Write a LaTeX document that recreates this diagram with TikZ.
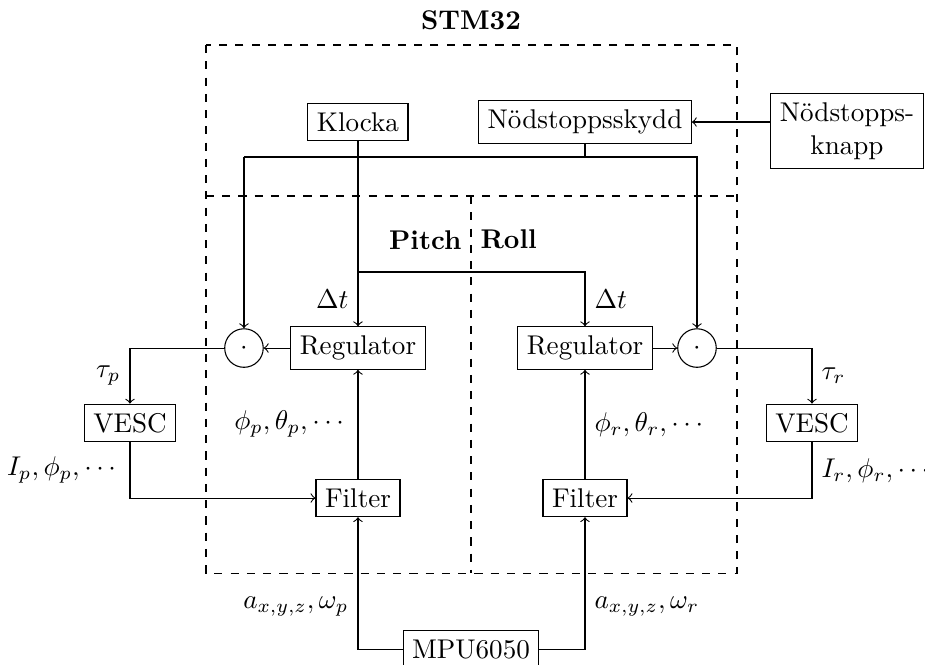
\documentclass[tikz,border=0pt]{standalone}
\usepackage{amsmath}

\begin{document}
\begin{tikzpicture}[
        block/.style={draw, rectangle},
        mult/.style={draw, circle, minimum size=0.5cm, inner sep=0pt},
        area/.style={draw, dashed}]
        \useasboundingbox (0,0) rectangle (12,-8.614);
        % dashed areas
        \draw[area] (2.672,-0.584) rectangle (9.561,-7.434);
        \draw[area] (2.672,-2.543) -- (9.561,-2.543);
        \draw[area] (6.110,-2.543) -- (6.110,-7.434);
        \node[font=\bfseries] (stm) at (6.11,-0.26) {STM32};
        \node[font=\bfseries, left] (pitch) at (6.11,-3.11) {Pitch};
        \node[font=\bfseries, right] (roll) at (6.11,-3.11) {Roll};
        % blocks
        \node[block] (klocka) at (4.644,-1.583) {Klocka};
        \node[block] (skydd) at (7.589,-1.583) {Nödstoppsskydd};
        \node[block, align=center] (knapp) at (10.988,-1.70) {Nödstopps-\\knapp};
        \node[block] (regp) at (4.644,-4.515) {Regulator};
        \node[block] (regr) at (7.589,-4.515) {Regulator};
        \node[mult] (multp) at (3.165,-4.515) {$\cdot$};
        \node[mult] (multr) at (9.042,-4.515) {$\cdot$};
        \node[block] (vescp) at (1.686,-5.488) {VESC};
        \node[block] (vescr) at (10.534,-5.488) {VESC};
        \node[block] (filtp) at (4.644,-6.461) {Filter};
        \node[block] (filtr) at (7.589,-6.461) {Filter};
        \node[block] (mpu) at (6.11,-8.42) {MPU6050};
        % emergency stop
        \coordinate (busl) at (3.165,-2.037);
        \coordinate (busr) at (9.042,-2.037);
        \draw[->] (knapp.west |- skydd.east) -- (skydd.east);
        \draw (skydd.south) -- (skydd.south |- busl);
        \draw[->] (busl) -- (multp.north);
        \draw[->] (busl) -- (busr) -- (multr.north);
        % clock
        \coordinate (clk) at (4.644,-3.529);
        \draw (klocka.south) -- (clk);
        \draw[->] (clk) -- (regp.north) node[midway, left] {$\Delta t$};
        \draw[->] (clk) -| (regr.north) node[pos=0.75, right] {$\Delta t$};
        % pitch loop
        \draw[->] (regp.west) -- (multp.east);
        \draw[->] (multp.west) -| (vescp.north) node[pos=0.75, left] {$\tau_p$};
        \draw[->] (vescp.south) |- (filtp.west) node[pos=0.25, left] {$I_p, \phi_p, \cdots$};
        \draw[->] (filtp.north) -- (regp.south) node[midway, left] {$\phi_p, \theta_p, \cdots$};
        \draw[->] (mpu.west) -| (filtp.south) node[pos=0.66, left] {$a_{x,y,z}, \omega_p$};
        % roll loop
        \draw[->] (regr.east) -- (multr.west);
        \draw[->] (multr.east) -| (vescr.north) node[pos=0.75, right] {$\tau_r$};
        \draw[->] (vescr.south) |- (filtr.east) node[pos=0.25, right] {$I_r, \phi_r, \cdots$};
        \draw[->] (filtr.north) -- (regr.south) node[midway, right] {$\phi_r, \theta_r, \cdots$};
        \draw[->] (mpu.east) -| (filtr.south) node[pos=0.66, right] {$a_{x,y,z}, \omega_r$};
    \end{tikzpicture}
\end{document}
